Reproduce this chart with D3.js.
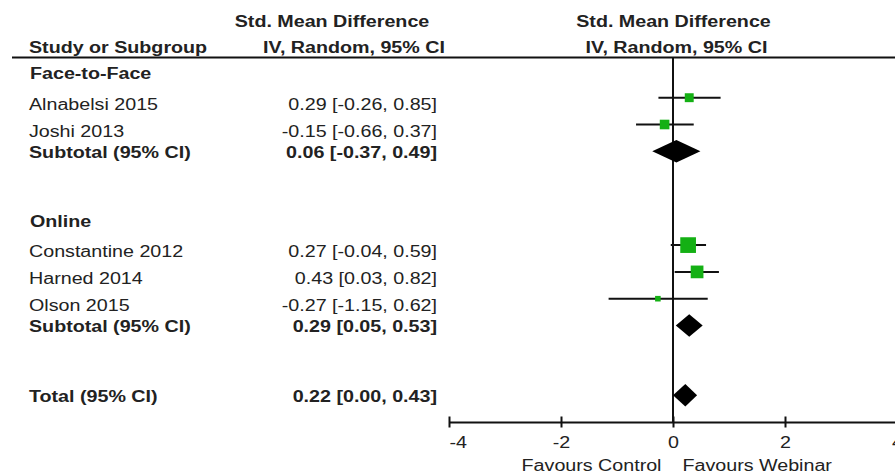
<!DOCTYPE html>
<html>
<head>
<meta charset="utf-8">
<script src="https://cdn.jsdelivr.net/npm/d3@7"></script>
<style>
  html, body { margin: 0; padding: 0; background: #fff; }
  svg { display: block; }
  text { font-family: "Liberation Sans", Arial, sans-serif; font-size: 16px; fill: #222; }
  .b { font-weight: bold; }
</style>
</head>
<body>
<svg id="chart" width="895" height="475"></svg>
<script>
// ---- data ----
const groups = ["Face-to-Face", "Online"];
const groupRow = [0, 5.5];

const studies = ["Alnabelsi 2015", "Joshi 2013", "Constantine 2012", "Harned 2014", "Olson 2015"];
const studySmd = [0.29, -0.15, 0.27, 0.43, -0.27];
const studyLower = [-0.26, -0.66, -0.04, 0.03, -1.15];
const studyUpper = [0.85, 0.37, 0.59, 0.82, 0.62];
const studyWeight = [13.0, 15.1, 40.3, 26.4, 5.1];
const studyRow = [1, 2, 6.5, 7.5, 8.5];

const pooled = ["Subtotal (95% CI)", "Subtotal (95% CI)", "Total (95% CI)"];
const pooledSmd = [0.06, 0.29, 0.22];
const pooledLower = [-0.37, 0.05, 0.00];
const pooledUpper = [0.49, 0.53, 0.43];
const pooledRow = [3, 9.5, 12.1];

const xTicks = [-4, -2, 0, 2, 4];
const headerLeft = ["Study or Subgroup"];
const headerEffect = ["Std. Mean Difference", "IV, Random, 95% CI"];
const favours = ["Favours Control", "Favours Webinar"];

// ---- layout ----
const svg = d3.select("#chart");
const SX = 1.23; // horizontal stretch of the original raster
const x = d3.scaleLinear().domain([-4, 4]).range([449, 897]);
const y = d3.scaleLinear().domain([0, 1]).range([70.9, 97.7]);
const size = d3.scaleSqrt().domain([0, 40.3]).range([0, 15.7]);
const axisY = 422;
const green = "#14b014";
const ink = "#111";
const fmt = v => v.toFixed(2);
const ciText = (m, l, u) => `${fmt(m)} [${fmt(l)}, ${fmt(u)}]`;

function txt(sel, str, tx, ty, anchor, bold) {
  return sel.append("text")
    .attr("transform", `translate(${tx},${ty}) scale(${SX},1)`)
    .attr("text-anchor", anchor)
    .attr("class", bold ? "b" : null)
    .text(str);
}

// headers
txt(svg, headerEffect[0], 332, 26.5, "middle", true);
txt(svg, headerEffect[1], 354, 52.5, "middle", true);
txt(svg, headerLeft[0], 29, 52.5, "start", true);
txt(svg, headerEffect[0], 673.5, 26.5, "middle", true);
txt(svg, headerEffect[1], 676.5, 52.5, "middle", true);

svg.append("line")
  .attr("x1", 12).attr("x2", 895)
  .attr("y1", 57.5).attr("y2", 57.5)
  .attr("stroke", ink).attr("stroke-width", 2);

// zero line
svg.append("line")
  .attr("x1", x(0)).attr("x2", x(0))
  .attr("y1", 57.5).attr("y2", axisY)
  .attr("stroke", ink).attr("stroke-width", 2);

// group headers
groups.forEach((g, i) => txt(svg, g, 30, y(groupRow[i]) + 8.4, "start", true));

// studies
studies.forEach((s, i) => {
  const ry = y(studyRow[i]);
  txt(svg, s, 29, ry + 12, "start", false);
  txt(svg, ciText(studySmd[i], studyLower[i], studyUpper[i]), 437, ry + 12, "end", false);
  svg.append("line")
    .attr("x1", x(studyLower[i])).attr("x2", x(studyUpper[i]))
    .attr("y1", ry).attr("y2", ry)
    .attr("stroke", ink).attr("stroke-width", 2);
  const s2 = size(studyWeight[i]);
  svg.append("rect")
    .attr("x", x(studySmd[i]) - s2 / 2).attr("y", ry - s2 / 2)
    .attr("width", s2).attr("height", s2)
    .attr("fill", green);
});

// pooled diamonds
pooled.forEach((p, i) => {
  const ry = y(pooledRow[i]);
  txt(svg, p, 29, ry + 6.5, "start", true);
  txt(svg, ciText(pooledSmd[i], pooledLower[i], pooledUpper[i]), 437, ry + 6.5, "end", true);
  const h = 11.2;
  svg.append("path")
    .attr("d", `M${x(pooledLower[i])},${ry} L${x(pooledSmd[i])},${ry - h} L${x(pooledUpper[i])},${ry} L${x(pooledSmd[i])},${ry + h} Z`)
    .attr("fill", "#000");
});

// axis
const ax = svg.append("g")
  .attr("transform", `translate(0,${axisY})`)
  .call(d3.axisBottom(x).tickValues(xTicks).tickSizeOuter(0).tickFormat(d => String(d)));
ax.select(".domain").attr("stroke", ink).attr("stroke-width", 2);
ax.selectAll(".tick line").attr("y1", -5.5).attr("y2", 5.5).attr("stroke", ink).attr("stroke-width", 2);
ax.selectAll(".tick text")
  .attr("y", 0).attr("dy", null)
  .attr("transform", `translate(0,25.5) scale(${SX},1)`)
  .attr("fill", "#222")
  .style("font-size", "16px")
  .style("font-family", '"Liberation Sans", Arial, sans-serif')
  .attr("text-anchor", (d, i) => i === 0 ? "start" : "middle");

// favours labels
txt(svg, favours[0], x(0) - 11.5, 471, "end", false);
txt(svg, favours[1], x(0) + 9.5, 471, "start", false);
</script>
</body>
</html>
